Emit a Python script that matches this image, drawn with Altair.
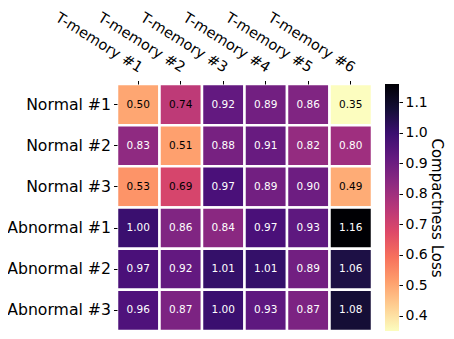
import altair as alt
import pandas as pd

rows = ["Normal #1", "Normal #2", "Normal #3", "Abnormal #1", "Abnormal #2", "Abnormal #3"]
cols = ["T-memory #1", "T-memory #2", "T-memory #3", "T-memory #4", "T-memory #5", "T-memory #6"]
normal_1 = [0.50, 0.74, 0.92, 0.89, 0.86, 0.35]
normal_2 = [0.83, 0.51, 0.88, 0.91, 0.82, 0.80]
normal_3 = [0.53, 0.69, 0.97, 0.89, 0.90, 0.49]
abnormal_1 = [1.00, 0.86, 0.84, 0.97, 0.93, 1.16]
abnormal_2 = [0.97, 0.92, 1.01, 1.01, 0.89, 1.06]
abnormal_3 = [0.96, 0.87, 1.00, 0.93, 0.87, 1.08]
cbar_ticks = [0.4, 0.5, 0.6, 0.7, 0.8, 0.9, 1.0, 1.1]

matrix = [normal_1, normal_2, normal_3, abnormal_1, abnormal_2, abnormal_3]
records = []
for r, vals in zip(rows, matrix):
    for c, v in zip(cols, vals):
        records.append({"row": r, "col": c, "value": v})
df = pd.DataFrame(records)

FONT = "DejaVu Sans"
magma_r = ["#fcfdbf", "#fecf92", "#fe9f6d", "#f7705c", "#de4968", "#b73779",
           "#8c2981", "#641a80", "#3b0f70", "#140e36", "#000004"]

W, H = 255, 247
CB_X, CB_W = 268, 14

color_scale = alt.Scale(scheme="magma", reverse=True, zero=False, nice=False)

base = alt.Chart(df).encode(
    x=alt.X("col:N", sort=cols, title=None,
            axis=alt.Axis(orient="top", labelAngle=32, labelAlign="right",
                          labelBaseline="bottom", labelFontSize=14.5, labelPadding=5.5,
                          labelOffset=-1, tickSize=3.5, tickColor="black", domain=False,
                          labelColor="black", labelFont=FONT)),
    y=alt.Y("row:N", sort=rows, title=None,
            axis=alt.Axis(orient="left", labelFontSize=15.7, labelPadding=3, tickSize=3.5,
                          tickColor="black", domain=False, labelColor="black",
                          labelFont=FONT)),
)

cells = base.mark_rect(stroke="white", strokeWidth=2.5).encode(
    color=alt.Color("value:Q", scale=color_scale, legend=None)
)
labels = base.mark_text(font=FONT, fontSize=10.5).encode(
    text=alt.Text("value:Q", format=".2f"),
    color=alt.condition(alt.datum.value < 0.77, alt.value("black"), alt.value("white")),
)
heat = alt.layer(cells, labels)

cbar = alt.Chart(df).mark_rect(
    fill=alt.Gradient(
        gradient="linear",
        stops=[alt.GradientStop(color=c, offset=i / (len(magma_r) - 1)) for i, c in enumerate(magma_r)],
        x1=0, x2=0, y1=1, y2=0,
    )
).encode(
    x=alt.value(CB_X), x2=alt.value(CB_X + CB_W),
    y=alt.Y("min(value):Q", scale=alt.Scale(zero=False, nice=False),
            title="Compactness Loss",
            axis=alt.Axis(orient="right", offset=CB_X + CB_W - W, values=cbar_ticks,
                          format=".1f", labelFontSize=14, labelColor="black",
                          labelFont=FONT, tickSize=3.5, tickColor="black",
                          domain=False, grid=False, labelPadding=2.5,
                          titleFontSize=15, titleFont=FONT,
                          titleFontWeight="normal", titleColor="black",
                          titlePadding=1, titleAngle=90)),
    y2="max(value):Q",
)

chart = alt.layer(heat, cbar).resolve_scale(y="independent").properties(
    width=W, height=H,
    autosize=alt.AutoSizeParams(type="none"),
    padding={"left": 109, "top": 76, "right": 74, "bottom": 0},
).configure_view(stroke=None)

chart.save("out.html", embed_options={"renderer": "svg", "actions": False})
